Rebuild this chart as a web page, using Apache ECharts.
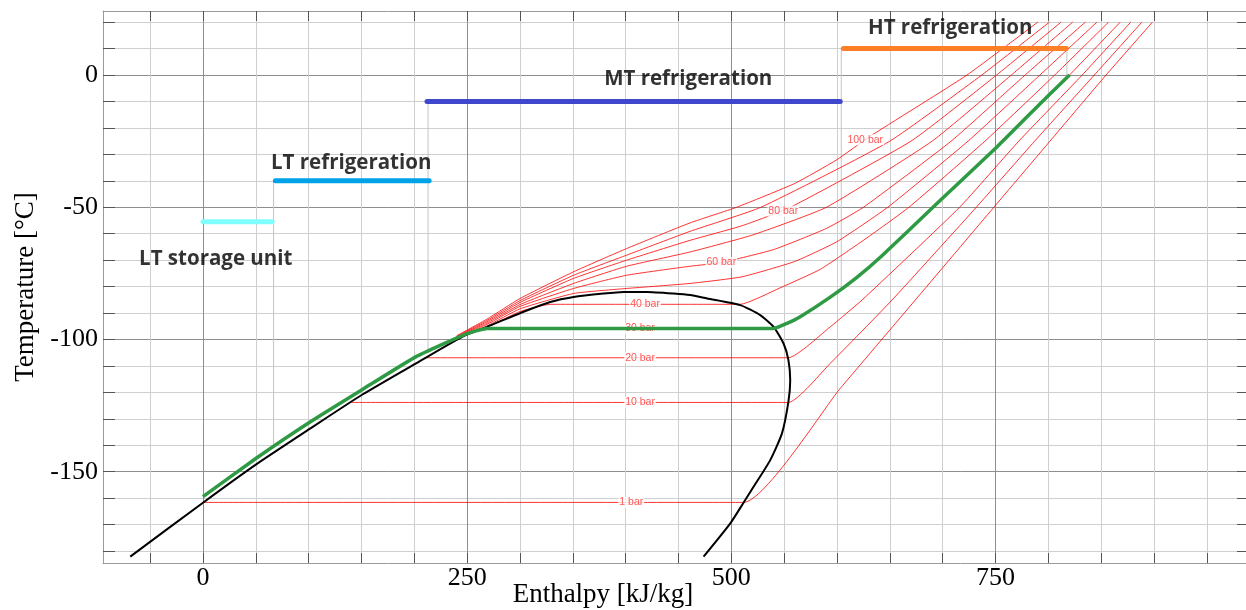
<!DOCTYPE html>
<html><head><meta charset="utf-8">
<script src="https://cdn.jsdelivr.net/npm/echarts/dist/echarts.min.js"></script>
<style>html,body{margin:0;padding:0;background:#fff}#c{width:1246px;height:610px}</style>
</head><body><div id="c"></div>
<script>
// ---------- axis ranges and ticks ----------
const X_MIN = -94.6, X_MAX = 987, Y_MIN = -184.5, Y_MAX = 24.2;
const xMinorTicks = [-50, 0, 50, 100, 150, 200, 250, 300, 350, 400, 450, 500, 550, 600, 650, 700, 750, 800, 850, 900, 950];
const xTickLabels = [0, 250, 500, 750];
const yMinorTicks = [-180, -170, -160, -150, -140, -130, -120, -110, -100, -90, -80, -70, -60, -50, -40, -30, -20, -10, 0, 10, 20];
const yTickLabels = [-150, -100, -50, 0];

// ---------- saturation dome (h [kJ/kg], T [°C]) ----------
const domeH = [-68.8, 0, 50, 101.7, 150.9, 202.5, 246.6, 268.7, 303.4, 328.6, 350.7, 379, 398, 420, 445.3, 461, 477, 508.4, 527.3, 540, 549.4, 554, 555.7, 554, 547.9, 536.8, 521, 511.5, 499, 473.7];
const domeT = [-182.1, -161.7, -147.3, -133.6, -120.8, -108.8, -98.7, -95.2, -89.5, -85.8, -83.9, -82.6, -82.0, -82.0, -82.6, -83.2, -84.5, -87.0, -90.8, -95.2, -101.5, -107.8, -115.4, -123.5, -135.5, -145.6, -155.7, -161.7, -169.5, -182.1];

// ---------- LNG heating path at 30 bar (green) ----------
const pathH = [0, 50, 101.7, 150.9, 202.5, 246.6, 268.7, 540, 552.6, 565.2, 593.6, 618.8, 642, 694.5, 751.3, 798.6, 820];
const pathT = [-159.4, -145, -131.1, -118.9, -106.3, -98.3, -95.8, -95.8, -93.9, -91.4, -84, -76.5, -68.5, -48.6, -27.2, -8.3, 0];

// ---------- isobars ----------
const isobar1   = [[0,-161.6],[511.5,-161.6],[603,-118.5],[674,-85.1],[748.4,-50],[801.5,-25],[854.6,0],[898.5,20]];
const isobar10  = [[139.4,-123.8],[554,-123.8],[593.6,-109],[652,-85.1],[731.8,-50],[787,-25],[843.5,0],[888.5,20]];
const isobar20  = [[212,-106.9],[554,-106.9],[593.6,-95.2],[623.6,-85.1],[716,-50],[772,-25],[832,0],[878,20]];
const isobar30  = [[250,-98],[268.7,-95.8],[540,-95.8],[552.6,-93.9],[565.2,-91.4],[593.6,-84],[618.8,-76.5],[642,-68.5],[694.5,-48.6],[751.3,-27.2],[798.6,-8.3],[820,0],[868,20]];
const isobar40  = [[240,-99.6],[268.7,-95.4],[300,-89.4],[328.6,-86.7],[508.4,-86.7],[546,-80.5],[584,-73.5],[625,-62.5],[668,-50],[740,-25],[806,0],[857,20]];
const isobar50  = [[240,-99.6],[268.7,-94.9],[300,-88.4],[350.7,-82.6],[401,-80.7],[461,-78.8],[510,-76.3],[560,-70.5],[600,-63],[648,-50],[724,-25],[792,0],[846,20]];
const isobar60  = [[240,-99.4],[268.7,-94.3],[300,-87.5],[350.7,-80.7],[401,-75.7],[461,-72.3],[490.5,-70.9],[540,-66],[590,-58],[625,-50],[708,-25],[778,0],[835,20]];
const isobar70  = [[240,-99.2],[268.7,-93.8],[300,-86.8],[350.7,-78.8],[401,-72.3],[461,-66.9],[520,-60.5],[590,-50],[690,-25],[765,0],[823,20]];
const isobar80  = [[240,-99.0],[268.7,-93.3],[300,-86.0],[350.7,-76.9],[401,-70],[461,-62.5],[510,-57],[556,-50],[670,-25],[751,0],[812,20]];
const isobar90  = [[240,-98.8],[268.7,-92.8],[300,-85.3],[350.7,-75.7],[401,-68.1],[461,-59.1],[528,-50],[650,-25],[737,0],[801,20]];
const isobar100 = [[240,-98.6],[268.7,-92.3],[300,-84.5],[350.7,-74.4],[401,-65.6],[461,-55.9],[505,-50],[560,-41],[600,-32],[630,-23.5],[723,0],[790,20]];
const isobars = [isobar1, isobar10, isobar20, isobar30, isobar40, isobar50, isobar60, isobar70, isobar80, isobar90, isobar100];

// isobar labels
const isoLabelText = ['1 bar', '10 bar', '20 bar', '30 bar', '40 bar', '60 bar', '80 bar', '100 bar'];
const isoLabelH = [405.3, 413.6, 413.6, 413.6, 418.3, 490.5, 549.1, 626.7];
const isoLabelT = [-161.6, -123.8, -106.9, -95.8, -86.7, -70.9, -51.5, -24.5];

// ---------- refrigeration temperature levels ----------
const levelNames = ['LT storage unit', 'LT refrigeration', 'MT refrigeration', 'HT refrigeration'];
const levelH0 = [0, 68.5, 212, 606];
const levelH1 = [65.5, 214, 603, 817];
const levelT = [-55.5, -40, -10, 10];
// drop lines from level ends down to the heating path
const dropH = [66.8, 213, 604, 817.5];
const dropTtop = [-40, -10, 10, 10];
const dropTbot = [-141, -104.4, -81, -0.5];
// annotation text anchors
const annotH = [12.1, 140.3, 459.2, 707.1];
const annotT = [-69.7, -33.4, -1.7, 17.8];

// ---------- styles ----------
const levelColors = ['#80ffff', '#00a2e8', '#3f48cc', '#ff7f27'];
const SERIF = 'Liberation Serif';

const zip = (a, b) => a.map((v, i) => [v, b[i]]);

const series = [];
dropH.forEach((h, i) => series.push({
  type: 'line', data: [[h, dropTtop[i]], [h, dropTbot[i]]], symbol: 'none', silent: true, z: 1,
  lineStyle: { color: '#c4c4c4', width: 1 }
}));
isobars.forEach(d => series.push({
  type: 'line', data: d, symbol: 'none', z: 2, smooth: 0.15,
  lineStyle: { color: 'rgba(255,0,0,0.8)', width: 1 }
}));
series.push({
  type: 'scatter', data: zip(isoLabelH, isoLabelT).map((p, i) => ({ value: p, name: isoLabelText[i] })),
  symbolSize: 0, z: 3,
  label: { show: true, position: 'inside', formatter: p => p.name, color: '#ff2a2a', fontSize: 10.5,
    fontFamily: 'Liberation Sans', backgroundColor: '#fff', padding: [0, 1] }
});
series.push({ type: 'line', data: zip(domeH, domeT), symbol: 'none', z: 4, smooth: 0.2,
  lineStyle: { color: '#000', width: 2 } });
series.push({ type: 'line', data: zip(pathH, pathT), symbol: 'none', z: 5, smooth: 0.15,
  lineStyle: { color: '#2f9a44', width: 3.5 } });
levelH0.forEach((h, i) => series.push({
  type: 'line', data: [[h, levelT[i]], [levelH1[i], levelT[i]]], symbol: 'none', z: 6,
  lineStyle: { color: levelColors[i], width: 5, cap: 'round' }
}));
series.push({
  type: 'scatter', data: zip(annotH, annotT).map((p, i) => ({ value: p, name: levelNames[i] })),
  symbolSize: 0, z: 7,
  label: { show: true, position: 'inside', formatter: p => p.name, color: '#000', fontSize: 20.5,
    fontWeight: 'bold', fontFamily: 'Open Sans' }
});

const axisLine = { show: true, onZero: false, lineStyle: { color: '#9a9a9a', width: 1 } };
const minorSplit = { show: true, lineStyle: { color: '#cfcfcf', width: 1 } };
const majorSplit = { show: true, lineStyle: { color: '#8e8e8e', width: 1 } };
const tick = len => ({ show: true, inside: true, length: len, lineStyle: { color: '#555' } });

const option = {
  animation: false,
  backgroundColor: '#fff',
  grid: { left: 103, right: 0, top: 11, bottom: 47, containLabel: false, outerBoundsMode: 'none' },
  xAxis: [
    { type: 'value', min: X_MIN, max: X_MAX, position: 'bottom', axisLine,
      axisTick: Object.assign(tick(10), { customValues: xMinorTicks }),
      axisLabel: { show: false, customValues: xMinorTicks }, splitLine: minorSplit },
    { type: 'value', min: X_MIN, max: X_MAX, position: 'top', axisLine,
      axisTick: Object.assign(tick(10), { customValues: xMinorTicks }),
      axisLabel: { show: false, customValues: xMinorTicks }, splitLine: { show: false } },
    { type: 'value', min: X_MIN, max: X_MAX, position: 'bottom',
      axisLine: { show: false, onZero: false },
      axisTick: { show: false, customValues: xTickLabels },
      axisLabel: { show: true, customValues: xTickLabels, fontFamily: SERIF, fontSize: 26, color: '#000', margin: 2 },
      splitLine: majorSplit,
      name: 'Enthalpy [kJ/kg]', nameLocation: 'middle', nameGap: 18, nameMoveOverlap: false,
      nameTextStyle: { fontFamily: SERIF, fontSize: 27, color: '#000', padding: [0, 143, 0, 0] } }
  ],
  yAxis: [
    { type: 'value', min: Y_MIN, max: Y_MAX, position: 'left', axisLine,
      axisTick: Object.assign(tick(12), { customValues: yMinorTicks }),
      axisLabel: { show: false, customValues: yMinorTicks }, splitLine: minorSplit },
    { type: 'value', min: Y_MIN, max: Y_MAX, position: 'right', axisLine,
      axisTick: Object.assign(tick(9), { customValues: yMinorTicks }),
      axisLabel: { show: false, customValues: yMinorTicks }, splitLine: { show: false } },
    { type: 'value', min: Y_MIN, max: Y_MAX, position: 'left',
      axisLine: { show: false, onZero: false },
      axisTick: { show: false, customValues: yTickLabels },
      axisLabel: { show: true, customValues: yTickLabels, fontFamily: SERIF, fontSize: 26, color: '#000', margin: 5 },
      splitLine: majorSplit,
      name: 'Temperature [°C]', nameLocation: 'middle', nameGap: 62,
      nameTextStyle: { fontFamily: SERIF, fontSize: 27, color: '#000' } }
  ],
  series
};
const chart = echarts.init(document.getElementById('c'), null, { renderer: 'canvas' });
chart.setOption(option);
</script></body></html>
